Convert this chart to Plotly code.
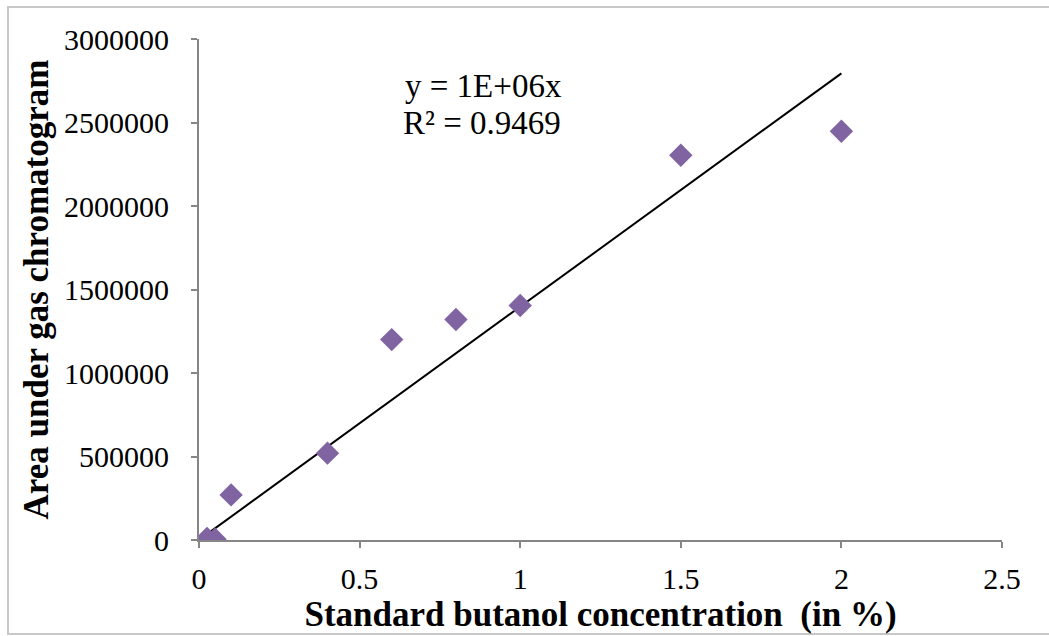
import plotly.graph_objects as go
import numpy as np

# Data
concentration = [0.025, 0.05, 0.1, 0.4, 0.6, 0.8, 1.0, 1.5, 2.0]
area = [10000, 5000, 270000, 520000, 1200000, 1320000, 1404000, 2304000, 2448000]
eq_line1 = "y = 1E+06x"
eq_line2 = "R² = 0.9469"
x_title = "Standard butanol concentration  (in %)"
y_title = "Area under gas chromatogram"
x_ticks = [0, 0.5, 1, 1.5, 2, 2.5]
y_ticks = [0, 500000, 1000000, 1500000, 2000000, 2500000, 3000000]

xa = np.array(concentration)
ya = np.array(area)
slope = float((xa * ya).sum() / (xa * xa).sum())
trend_x = [xa.min(), xa.max()]
trend_y = [slope * v for v in trend_x]

W, H = 1049, 636
L, R, T, B = 199, 47, 39, 96
pw, ph = W - L - R, H - T - B

FONT = "Liberation Serif, Times New Roman, serif"
AX = "#868686"

fig = go.Figure()
fig.add_trace(go.Scatter(x=trend_x, y=trend_y, mode="lines",
                         line=dict(color="black", width=2), showlegend=False,
                         hoverinfo="skip"))
fig.add_trace(go.Scatter(x=concentration, y=area, mode="markers",
                         marker=dict(symbol="diamond", size=18, color="#8064A2",
                                     line=dict(width=0)),
                         showlegend=False))

fig.add_annotation(x=0.636, y=2720000, xref="x", yref="y", text=eq_line1,
                   showarrow=False, xanchor="left", yanchor="middle", align="left",
                   font=dict(family=FONT, size=33, color="black"))
fig.add_annotation(x=0.630, y=2500000, xref="x", yref="y", text=eq_line2,
                   showarrow=False, xanchor="left", yanchor="middle", align="left",
                   font=dict(family=FONT, size=33, color="black"))

# outer chart-area border
def px_to_paper_x(p):
    return (p - L) / pw

def px_to_paper_y(p):
    return (H - B - p) / ph

fig.add_shape(type="rect", xref="paper", yref="paper",
              x0=px_to_paper_x(8), x1=px_to_paper_x(1060),
              y0=px_to_paper_y(634), y1=px_to_paper_y(7),
              line=dict(color="#C8C8C8", width=2), layer="below")

fig.update_layout(
    width=W, height=H,
    margin=dict(l=L, r=R, t=T, b=B),
    paper_bgcolor="white", plot_bgcolor="white",
    font=dict(family=FONT, size=30, color="black"),
    xaxis=dict(range=[0, 2.5], tickvals=x_ticks, ticktext=[f"{v:g}" for v in x_ticks],
               showgrid=False, zeroline=False, showline=True, linecolor=AX, linewidth=2,
               ticks="outside", ticklen=6, tickcolor=AX, tickwidth=2,
               ticklabelstandoff=5,
               tickfont=dict(family=FONT, size=30, color="black"),
               title=dict(text=x_title, font=dict(family=FONT, size=35, color="black", weight="bold"),
                          standoff=0)),
    yaxis=dict(range=[0, 3000000], tickvals=y_ticks, ticktext=[str(v) for v in y_ticks],
               showgrid=False, zeroline=False, showline=True, linecolor=AX, linewidth=2,
               ticks="outside", ticklen=6, tickcolor=AX, tickwidth=2,
               ticklabelstandoff=16,
               tickfont=dict(family=FONT, size=30, color="black"),
               title=dict(text=y_title, font=dict(family=FONT, size=35, color="black", weight="bold"),
                          standoff=5)),
)

fig.write_html("out.html")
